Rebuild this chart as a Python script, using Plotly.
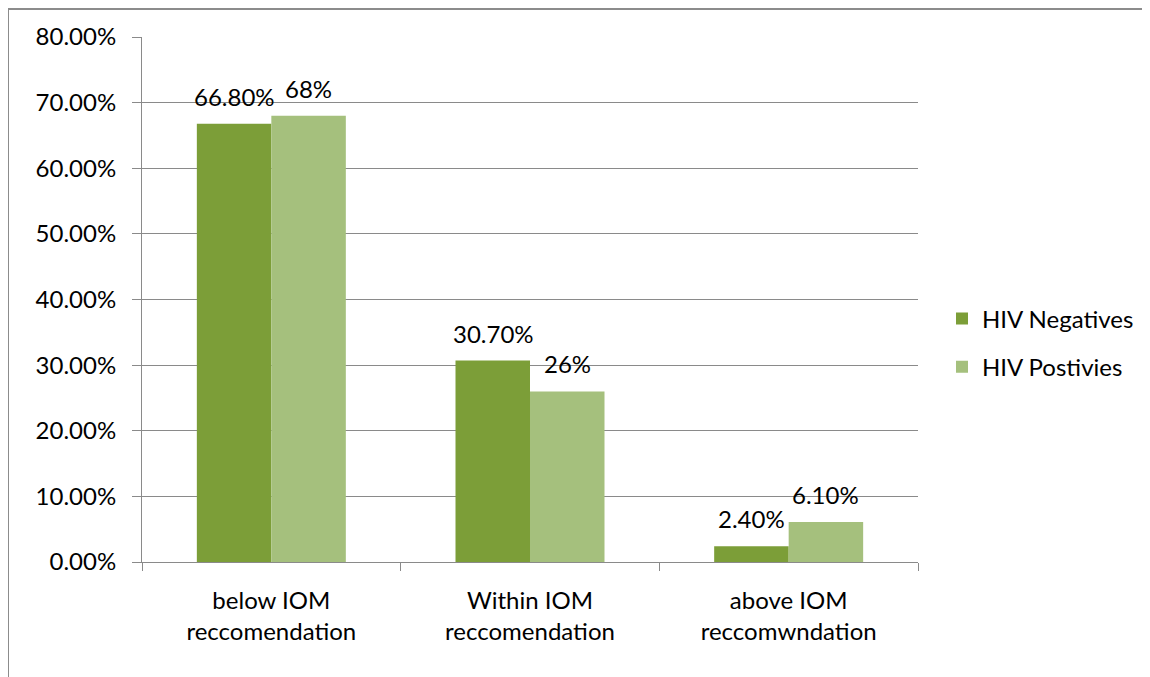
import plotly.graph_objects as go

categories = ["below IOM<br>reccomendation", "Within IOM<br>reccomendation", "above IOM<br>reccomwndation"]
hiv_negatives = [0.668, 0.307, 0.024]
hiv_positives = [0.68, 0.26, 0.061]
neg_labels = ["66.80%", "30.70%", "2.40%"]
pos_labels = ["68%", "26%", "6.10%"]
y_ticks = [0, 0.1, 0.2, 0.3, 0.4, 0.5, 0.6, 0.7, 0.8]

FONT = "Lato"
GRID = "#8a8a8a"
OFF = 8  # page body margin

W, H = 1150 - OFF, 677 - OFF
L, T = 142 - OFF, 37 - OFF
R = W - (918 - OFF)
B = H - (562 - OFF)
PW, PH = W - L - R, H - T - B

fig = go.Figure()
fig.add_trace(go.Bar(
    x=categories, y=hiv_negatives, name="HIV Negatives", legendgroup="a",
    marker=dict(color="#7c9e38", line=dict(width=0)),
))
fig.add_trace(go.Bar(
    x=categories, y=hiv_positives, name="HIV Postivies", legendgroup="b",
    marker=dict(color="#a5c07d", line=dict(width=0)),
))

annotations = []
for cat, v, t in zip(categories, hiv_negatives, neg_labels):
    annotations.append(dict(x=cat, y=v, text=t, showarrow=False, xref="x", yref="y",
                            xanchor="center", yanchor="bottom", xshift=-37, yshift=11,
                            font=dict(family=FONT, size=24, color="#000")))
for cat, v, t in zip(categories, hiv_positives, pos_labels):
    annotations.append(dict(x=cat, y=v, text=t, showarrow=False, xref="x", yref="y",
                            xanchor="center", yanchor="bottom", xshift=37, yshift=11,
                            font=dict(family=FONT, size=24, color="#000")))


def px(xs):
    return (xs - OFF - L) / PW


def py(ys):
    return (H - B - (ys - OFF)) / PH


shapes = [
    dict(type="line", xref="paper", yref="paper", x0=px(8), x1=px(8), y0=py(700), y1=py(9),
         line=dict(color="#8c8c8c", width=2)),
    dict(type="line", xref="paper", yref="paper", x0=px(8), x1=px(1170), y0=py(9), y1=py(9),
         line=dict(color="#8c8c8c", width=2)),
]

fig.update_layout(
    width=W, height=H,
    margin=dict(l=L, r=R, t=T, b=B, pad=0, autoexpand=False),
    paper_bgcolor="white", plot_bgcolor="white",
    barmode="group", bargap=0.424, bargroupgap=0,
    font=dict(family=FONT, size=24, color="#000"),
    showlegend=True,
    legend=dict(xref="container", yref="container",
                x=(942 - OFF) / W, y=1 - (343 - OFF) / H, xanchor="left", yanchor="middle",
                font=dict(family=FONT, size=24, color="#000"),
                tracegroupgap=14, bgcolor="rgba(0,0,0,0)"),
    annotations=annotations,
    shapes=shapes,
)
fig.update_xaxes(
    showline=True, linecolor=GRID, linewidth=1,
    ticks="outside", tickson="boundaries", ticklen=8, tickcolor=GRID,
    tickfont=dict(family=FONT, size=24, color="#000"),
    ticklabelstandoff=17,
    showgrid=False, fixedrange=True,
)
fig.update_yaxes(
    range=[0, 0.8], tickvals=y_ticks, tickformat=".2%",
    showline=True, linecolor=GRID, linewidth=1,
    ticks="outside", ticklen=9, tickcolor=GRID,
    tickfont=dict(family=FONT, size=24, color="#000"),
    ticklabelstandoff=11,
    showgrid=True, gridcolor=GRID, gridwidth=1,
    zeroline=False, fixedrange=True,
)

fig.write_html("out.html")
